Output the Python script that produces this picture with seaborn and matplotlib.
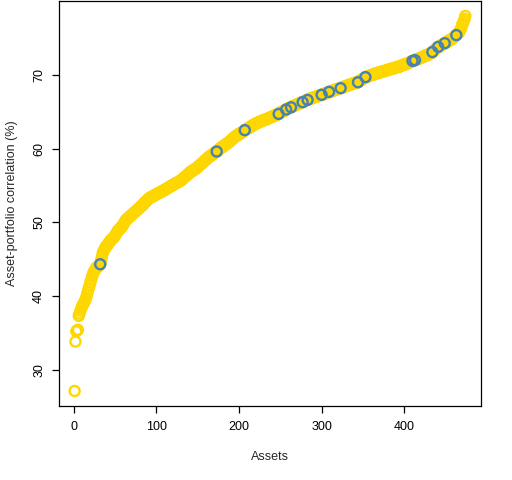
import matplotlib
matplotlib.use("Agg")
import matplotlib.pyplot as plt
import seaborn as sns
import numpy as np
import pandas as pd

# Asset-portfolio correlations, sorted ascending (one value per asset)
correlation = [
    27.1, 33.8, 35.2, 35.3, 35.4, 37.3, 37.6, 38.0, 38.3, 38.6,
    38.8, 39.0, 39.2, 39.5, 39.8, 40.2, 40.6, 41.0, 41.4, 41.8,
    42.2, 42.6, 42.9, 43.2, 43.4, 43.6, 43.8, 43.9, 44.0, 44.1,
    44.2, 44.3, 44.8, 45.3, 45.8, 46.1, 46.3, 46.5, 46.7, 46.8,
    47.0, 47.1, 47.3, 47.4, 47.6, 47.7, 47.8, 47.9, 48.0, 48.2,
    48.4, 48.6, 48.8, 48.9, 49.0, 49.1, 49.3, 49.4, 49.5, 49.7,
    49.9, 50.1, 50.3, 50.4, 50.5, 50.6, 50.7, 50.8, 50.9, 51.0,
    51.1, 51.2, 51.3, 51.4, 51.5, 51.6, 51.7, 51.8, 51.9, 52.0,
    52.1, 52.2, 52.3, 52.4, 52.6, 52.7, 52.8, 52.9, 53.0, 53.1,
    53.2, 53.3, 53.4, 53.4, 53.5, 53.5, 53.6, 53.7, 53.7, 53.8,
    53.9, 53.9, 54.0, 54.0, 54.1, 54.1, 54.2, 54.3, 54.3, 54.4,
    54.5, 54.5, 54.6, 54.7, 54.7, 54.8, 54.9, 54.9, 55.0, 55.1,
    55.1, 55.2, 55.3, 55.3, 55.4, 55.4, 55.5, 55.6, 55.6, 55.7,
    55.8, 55.9, 56.0, 56.1, 56.2, 56.3, 56.4, 56.5, 56.6, 56.7,
    56.8, 56.9, 56.9, 57.0, 57.1, 57.2, 57.2, 57.3, 57.4, 57.5,
    57.6, 57.7, 57.8, 57.9, 58.0, 58.1, 58.2, 58.3, 58.4, 58.5,
    58.6, 58.7, 58.8, 58.9, 59.0, 59.0, 59.1, 59.2, 59.3, 59.4,
    59.5, 59.5, 59.6, 59.7, 59.8, 59.9, 60.0, 60.1, 60.2, 60.2,
    60.3, 60.4, 60.5, 60.6, 60.6, 60.7, 60.8, 60.9, 61.0, 61.1,
    61.2, 61.3, 61.4, 61.5, 61.6, 61.7, 61.7, 61.8, 61.9, 62.0,
    62.0, 62.1, 62.2, 62.2, 62.3, 62.4, 62.5, 62.6, 62.6, 62.7,
    62.8, 62.8, 62.9, 63.0, 63.0, 63.1, 63.2, 63.2, 63.3, 63.4,
    63.4, 63.5, 63.5, 63.6, 63.6, 63.7, 63.7, 63.8, 63.8, 63.9,
    63.9, 63.9, 64.0, 64.0, 64.1, 64.1, 64.2, 64.2, 64.3, 64.3,
    64.4, 64.4, 64.5, 64.5, 64.6, 64.6, 64.7, 64.7, 64.8, 64.9,
    64.9, 65.0, 65.0, 65.1, 65.1, 65.2, 65.3, 65.4, 65.4, 65.5,
    65.5, 65.6, 65.6, 65.7, 65.7, 65.8, 65.8, 65.9, 65.9, 66.0,
    66.0, 66.1, 66.1, 66.2, 66.2, 66.3, 66.3, 66.4, 66.4, 66.5,
    66.5, 66.6, 66.6, 66.7, 66.7, 66.8, 66.8, 66.8, 66.9, 66.9,
    67.0, 67.0, 67.0, 67.1, 67.1, 67.1, 67.2, 67.2, 67.3, 67.3,
    67.3, 67.4, 67.4, 67.5, 67.5, 67.5, 67.6, 67.6, 67.7, 67.7,
    67.8, 67.8, 67.8, 67.9, 67.9, 68.0, 68.0, 68.0, 68.1, 68.1,
    68.1, 68.2, 68.2, 68.3, 68.3, 68.3, 68.4, 68.4, 68.5, 68.5,
    68.5, 68.6, 68.6, 68.7, 68.7, 68.7, 68.8, 68.8, 68.9, 68.9,
    68.9, 69.0, 69.0, 69.0, 69.1, 69.2, 69.3, 69.3, 69.4, 69.5,
    69.5, 69.6, 69.7, 69.7, 69.8, 69.8, 69.8, 69.9, 69.9, 70.0,
    70.0, 70.0, 70.1, 70.1, 70.2, 70.2, 70.2, 70.3, 70.3, 70.3,
    70.4, 70.4, 70.4, 70.5, 70.5, 70.5, 70.6, 70.6, 70.6, 70.7,
    70.7, 70.7, 70.8, 70.8, 70.8, 70.9, 70.9, 70.9, 71.0, 71.0,
    71.0, 71.1, 71.1, 71.1, 71.2, 71.2, 71.3, 71.3, 71.4, 71.4,
    71.4, 71.5, 71.5, 71.6, 71.6, 71.7, 71.7, 71.8, 71.8, 71.9,
    71.9, 72.0, 72.0, 72.1, 72.1, 72.1, 72.2, 72.2, 72.3, 72.3,
    72.4, 72.4, 72.5, 72.5, 72.6, 72.6, 72.7, 72.7, 72.8, 72.8,
    72.9, 72.9, 73.0, 73.1, 73.2, 73.3, 73.4, 73.5, 73.6, 73.7,
    73.8, 73.8, 73.9, 74.0, 74.0, 74.1, 74.2, 74.2, 74.3, 74.4,
    74.4, 74.5, 74.6, 74.6, 74.7, 74.8, 74.8, 74.9, 75.0, 75.1,
    75.2, 75.3, 75.4, 75.5, 75.6, 75.7, 75.9, 76.1, 76.4, 76.8,
    77.0, 77.3, 77.6, 78.0,
]

# assets (by rank) that are highlighted in blue
highlighted = [32, 173, 207, 248, 257, 263, 277, 283, 300, 309,
               323, 344, 353, 410, 413, 434, 441, 449, 463]

df = pd.DataFrame({"Assets": np.arange(1, len(correlation) + 1),
                   "corr": correlation})
hi = df[df["Assets"].isin(highlighted)]

sns.set_style("ticks")
plt.rcParams["font.family"] = ["Liberation Sans", "DejaVu Sans"]

fig = plt.figure(figsize=(5.12, 4.8), dpi=100)
ax = fig.add_axes([0.1152, 0.1542, 0.8243, 0.8438])

sns.scatterplot(data=df, x="Assets", y="corr", ax=ax, marker="o", s=52,
                facecolor="none", edgecolor="#FFD700", linewidth=1.7)
sns.scatterplot(data=hi, x="Assets", y="corr", ax=ax, marker="o", s=52,
                facecolor="none", edgecolor="#4682B4", linewidth=1.7)

n = len(correlation)
xr = n - 1
ax.set_xlim(1 - 0.04 * xr, n + 0.04 * xr)
yr = max(correlation) - min(correlation)
ax.set_ylim(min(correlation) - 0.04 * yr, max(correlation) + 0.04 * yr)

ax.set_xticks([0, 100, 200, 300, 400])
ax.set_yticks([30, 40, 50, 60, 70])
for s in ax.spines.values():
    s.set_visible(True)
    s.set_color("black")
    s.set_linewidth(0.9)
ax.tick_params(axis="both", direction="out", length=5, width=0.9,
               color="black", labelsize=9, labelcolor="black")
ax.tick_params(axis="x", pad=6)
ax.tick_params(axis="y", pad=5)
for lab in ax.get_yticklabels():
    lab.set_rotation(90)
    lab.set_va("center")

ax.set_xlabel("Assets", fontsize=9, labelpad=13)
ax.set_ylabel("Asset-portfolio correlation (%)", fontsize=9, labelpad=11)

fig.savefig("out.png", dpi=100)
